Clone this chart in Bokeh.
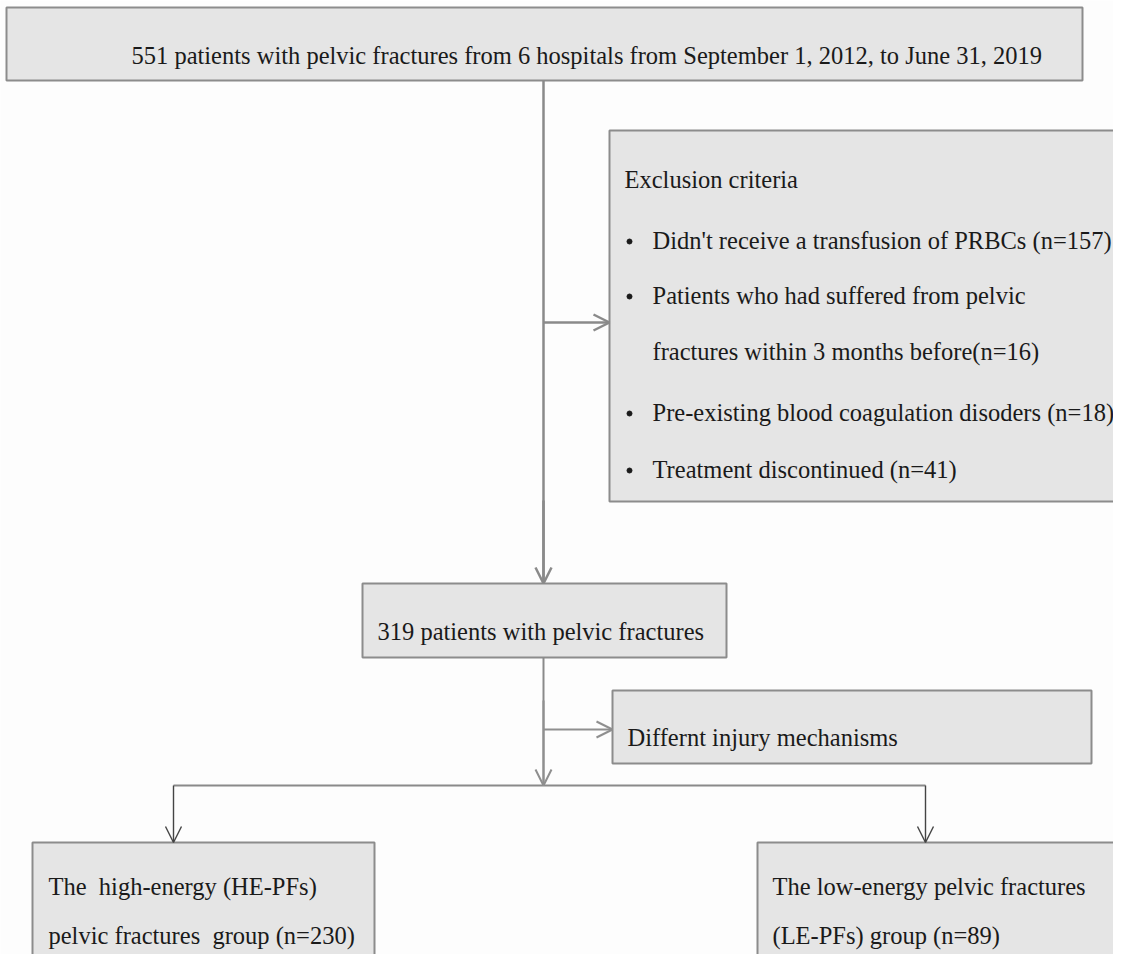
from bokeh.plotting import figure
from bokeh.models import Range1d, Arrow, OpenHead, ColumnDataSource
from bokeh.core.properties import value
from bokeh.embed import file_html
from bokeh.resources import INLINE

# ---- boxes (layout in picture pixels) ----
box_names = ["all", "exclusion", "included", "mechanism", "high", "low"]
box_left = [6, 609, 362, 612, 32, 757]
box_right = [1082, 1122, 726, 1091, 374, 1150]
box_top = [7, 130, 583, 690, 842, 842]
box_bottom = [80, 501, 657, 763, 990, 990]

# ---- texts ----
label_text = [
    "551 patients with pelvic fractures from 6 hospitals from September 1, 2012, to June 31, 2019",
    "Exclusion criteria",
    "Didn't receive a transfusion of PRBCs (n=157)",
    "Patients who had suffered from pelvic",
    "fractures within 3 months before(n=16)",
    "Pre-existing blood coagulation disoders (n=18)",
    "Treatment discontinued (n=41)",
    "319 patients with pelvic fractures",
    "Differnt injury mechanisms",
    "The \u00a0high-energy (HE-PFs)",
    "pelvic fractures \u00a0group (n=230)",
    "The low-energy pelvic fractures",
    "(LE-PFs) group (n=89)",
]
label_x = [131, 624, 652, 652, 652, 652, 652, 377, 627, 48, 48, 772, 772]
label_y = [55, 179, 240, 295, 351, 412, 469, 631, 737, 886, 935, 886, 935]

bullet_x = [629, 629, 629, 629]
bullet_y = [241, 296, 413, 470]

# ---- connectors ----
line_x0 = [543, 543, 173]
line_y0 = [80, 657, 785]
line_x1 = [543, 543, 925]
line_y1 = [583, 785, 785]
line_w = [2.5, 2.0, 2.0]

arrow_x0 = [543, 543, 543, 543, 173, 925]
arrow_y0 = [322, 500, 729, 700, 785, 785]
arrow_x1 = [609, 543, 612, 543, 173, 925]
arrow_y1 = [322, 583, 729, 785, 842, 842]
arrow_color = ["#8a8a8a", "#8a8a8a", "#8f8f8f", "#8f8f8f", "#444444", "#444444"]
arrow_width = [2.5, 2.5, 2.0, 2.0, 1.4, 1.4]

W, H = 1113, 954
p = figure(width=W, height=H, x_range=Range1d(0, W), y_range=Range1d(H, 0),
           output_backend="svg", toolbar_location=None, min_border=0)
p.axis.visible = False
p.grid.visible = False
p.outline_line_color = None
p.background_fill_color = "#fdfdfd"
p.border_fill_color = "#fdfdfd"

src = ColumnDataSource(dict(left=box_left, right=box_right, top=box_top, bottom=box_bottom))
p.quad(left="left", right="right", top="top", bottom="bottom", source=src,
       fill_color="#e5e5e5", line_color="#8c8c8c", line_width=2)

lsrc = ColumnDataSource(dict(x0=line_x0, y0=line_y0, x1=line_x1, y1=line_y1, w=line_w))
p.segment(x0="x0", y0="y0", x1="x1", y1="y1", source=lsrc,
          line_color="#8a8a8a", line_width="w")

for x0, y0, x1, y1, c, w in zip(arrow_x0, arrow_y0, arrow_x1, arrow_y1, arrow_color, arrow_width):
    p.add_layout(Arrow(x_start=x0, y_start=y0, x_end=x1, y_end=y1,
                       line_color=c, line_width=w,
                       end=OpenHead(size=16, line_color=c, line_width=w)))

p.text(x=label_x, y=label_y, text=label_text, text_font=value("Liberation Serif"),
       text_font_size="24.5px", text_color="#1a1a1a", text_baseline="alphabetic",
       text_align="left")

p.scatter(x=bullet_x, y=bullet_y, size=5, color="#1a1a1a")

open("out.html", "w").write(file_html(p, INLINE))
